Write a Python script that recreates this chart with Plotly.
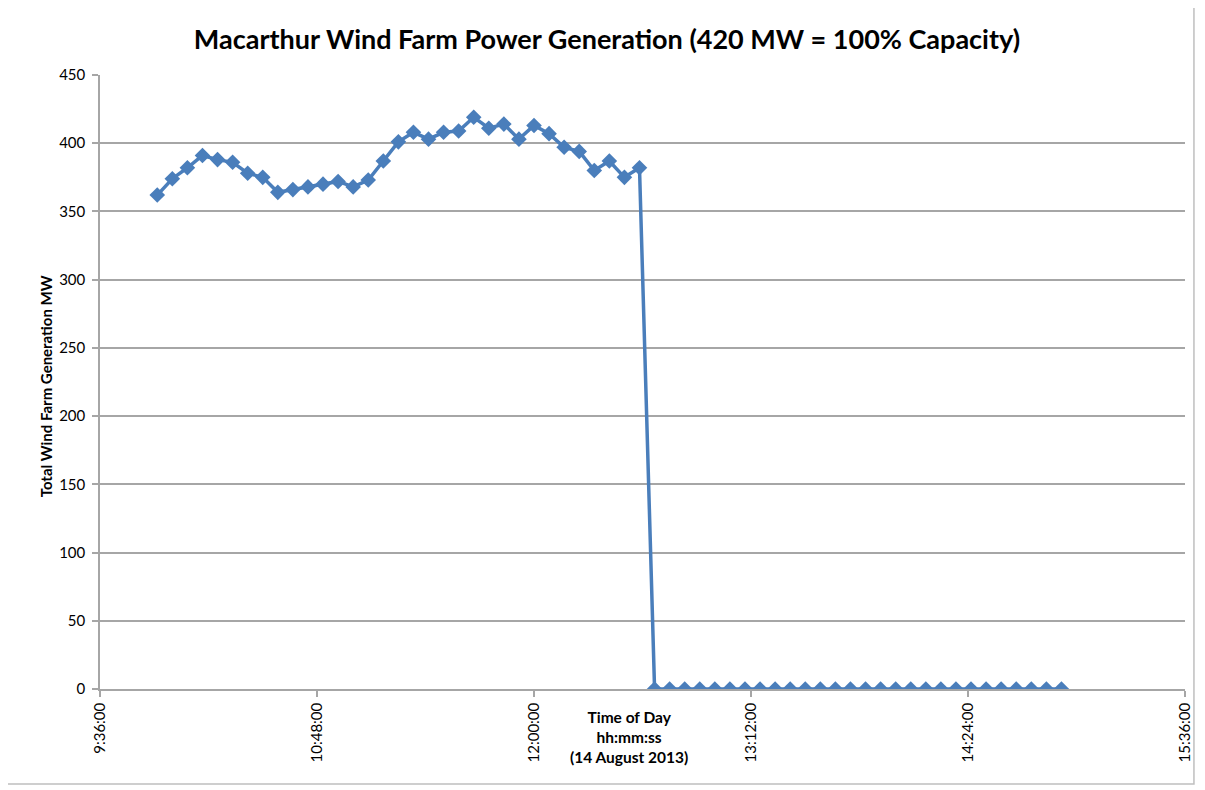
import plotly.graph_objects as go

times = [
    "09:55", "10:00", "10:05", "10:10", "10:15", "10:20", "10:25", "10:30",
    "10:35", "10:40", "10:45", "10:50", "10:55", "11:00", "11:05", "11:10",
    "11:15", "11:20", "11:25", "11:30", "11:35", "11:40", "11:45", "11:50",
    "11:55", "12:00", "12:05", "12:10", "12:15", "12:20", "12:25", "12:30",
    "12:35", "12:40", "12:45", "12:50", "12:55", "13:00", "13:05", "13:10",
    "13:15", "13:20", "13:25", "13:30", "13:35", "13:40", "13:45", "13:50",
    "13:55", "14:00", "14:05", "14:10", "14:15", "14:20", "14:25", "14:30",
    "14:35", "14:40", "14:45", "14:50", "14:55",
]
generation_mw = [
    362, 374, 382, 391, 388, 386, 378, 375,
    364, 366, 368, 370, 372, 368, 373, 387,
    401, 408, 403, 408, 409, 419, 411, 414,
    403, 413, 407, 397, 394, 380, 387, 375,
    382, 0, 0, 0, 0, 0, 0, 0,
    0, 0, 0, 0, 0, 0, 0, 0,
    0, 0, 0, 0, 0, 0, 0, 0,
    0, 0, 0, 0, 0,
]
date = "2013-08-14"
x_start, x_end = "09:36:00", "15:36:00"
y_ticks = [0, 50, 100, 150, 200, 250, 300, 350, 400, 450]

x_vals = [f"{date} {t}:00" for t in times]

FONT = "Lato"
GRID = "#A6A6A6"
BLUE = "#4A7EBB"

# page has an 8px body margin; figure origin is at (8, 8)
OFF = 8
W, H = 1205 - OFF, 790 - OFF
PL, PR, PT, PB = 100, 1191, 75, 689          # plot area in page pixels
PW, PH = PR - PL, PB - PT


def px(xp):
    return (xp - PL) / PW


def py(yp):
    return (PB - yp) / PH


fig = go.Figure()
fig.add_trace(go.Scatter(
    x=x_vals, y=generation_mw, mode="lines+markers",
    line=dict(color=BLUE, width=3.5),
    marker=dict(symbol="diamond", size=12, color=BLUE),
    showlegend=False,
))

fig.update_layout(
    width=W, height=H,
    margin=dict(l=PL - OFF, r=W - (PR - OFF), t=PT - OFF, b=H - (PB - OFF)),
    paper_bgcolor="white", plot_bgcolor="white",
    font=dict(family=FONT, color="#000000"),
    title=dict(
        text="<b>Macarthur Wind Farm Power Generation (420 MW = 100% Capacity)</b>",
        x=(607 - OFF) / W, xanchor="center", y=1 - (40 - OFF) / H, yanchor="middle",
        yref="container", font=dict(family=FONT, size=27, color="#000000"),
    ),
    xaxis=dict(
        type="date",
        range=[f"{date} {x_start}", f"{date} {x_end}"],
        tick0=f"{date} {x_start}", dtick=72 * 60 * 1000,
        tickformat="%-H:%M:%S", tickangle=-90,
        showgrid=False, showline=True, linecolor=GRID, linewidth=1.5,
        ticks="outside", ticklen=6, tickcolor=GRID, tickwidth=1.5,
        tickfont=dict(family=FONT, size=15, color="#000000"),
        zeroline=False,
    ),
    yaxis=dict(
        range=[0, 450], tickvals=y_ticks,
        showgrid=True, gridcolor=GRID, gridwidth=1.5,
        showline=True, linecolor=GRID, linewidth=1.5,
        ticks="outside", ticklen=6, tickcolor=GRID, tickwidth=1.5,
        ticklabelstandoff=4,
        tickfont=dict(family=FONT, size=15, color="#000000"),
        zeroline=False,
    ),
    annotations=[
        dict(text="<b>Total Wind Farm Generation MW</b>", textangle=-90,
             x=px(46), y=py(386), xref="paper", yref="paper",
             xanchor="center", yanchor="middle", showarrow=False,
             font=dict(family=FONT, size=15, color="#000000")),
        dict(text="<b>Time of Day<br>hh:mm:ss<br>(14 August 2013)</b>",
             x=px(632), y=py(706), xref="paper", yref="paper",
             xanchor="center", yanchor="top", showarrow=False, align="center",
             font=dict(family=FONT, size=15.5, color="#000000")),
    ],
    shapes=[
        dict(type="rect", xref="paper", yref="paper",
             x0=px(6), x1=px(1200), y0=py(784), y1=py(6),
             line=dict(color="#BFBFBF", width=1.5), fillcolor="rgba(0,0,0,0)",
             layer="below"),
    ],
)

fig.write_html("out.html")
